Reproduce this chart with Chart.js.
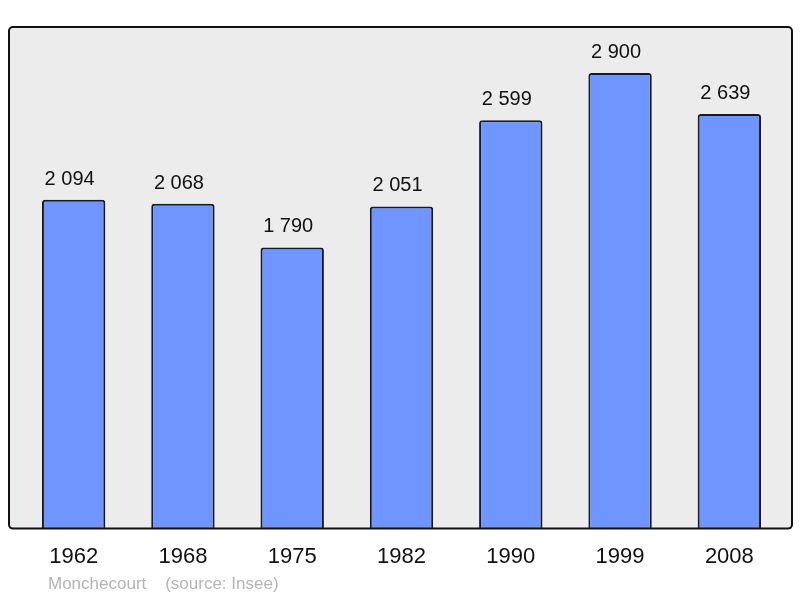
<!DOCTYPE html>
<html>
<head>
<meta charset="utf-8">
<script src="https://cdn.jsdelivr.net/npm/chart.js@4/dist/chart.umd.min.js"></script>
<style>
  html, body { margin: 0; padding: 0; background: #fff; }
  #wrap { width: 800px; height: 598px; position: relative; }
</style>
</head>
<body>
<div id="wrap"><canvas id="pop"></canvas></div>
<script>
// --- data ---
const years = ['1962', '1968', '1975', '1982', '1990', '1999', '2008'];
const population = [2094, 2068, 1790, 2051, 2599, 2900, 2639];
const sourceNote = 'Monchecourt    (source: Insee)';

const FONT = '"Liberation Sans", Arial, sans-serif';

// grey panel with black rounded frame, a bit wider than the category area
const framePlugin = {
    id: 'frame',
    beforeDraw(chart) {
        const { ctx, chartArea: a } = chart;
        const x0 = a.left - 10, x1 = a.right + 8, y0 = a.top, y1 = a.bottom;
        ctx.save();
        ctx.beginPath();
        ctx.roundRect(x0, y0, x1 - x0, y1 - y0, 4);
        ctx.fillStyle = '#ececec';
        ctx.fill();
        ctx.restore();
    },
    afterDatasetsDraw(chart) {
        const { ctx, chartArea: a } = chart;
        const x0 = a.left - 10, x1 = a.right + 8, y0 = a.top, y1 = a.bottom;
        ctx.save();
        ctx.beginPath();
        ctx.roundRect(x0, y0, x1 - x0, y1 - y0, 4);
        ctx.lineWidth = 2;
        ctx.strokeStyle = '#111';
        ctx.stroke();
        ctx.restore();
    }
};

// value labels above bars + source note
const labelPlugin = {
    id: 'valueLabels',
    afterDraw(chart) {
        const { ctx } = chart;
        const meta = chart.getDatasetMeta(0);
        ctx.save();
        ctx.fillStyle = '#111';
        ctx.font = '20px ' + FONT;
        ctx.textAlign = 'center';
        ctx.textBaseline = 'alphabetic';
        meta.data.forEach((bar, i) => {
            const txt = population[i].toLocaleString('fr-FR').replace(/\s/g, ' ');
            ctx.fillText(txt, bar.x - 4, bar.y - 15);  // labels sit a little left of centre in the original
        });
        ctx.fillStyle = '#b4b4b4';
        ctx.font = '17px ' + FONT;
        ctx.textAlign = 'left';
        ctx.fillText(sourceNote, 48, 589);
        ctx.restore();
    }
};

new Chart(document.getElementById('pop'), {
    type: 'bar',
    data: {
        labels: years,
        datasets: [{
            data: population,
            backgroundColor: '#6f96ff',
            borderColor: '#1a1a1a',
            borderWidth: 2,
            borderRadius: 3,
            borderSkipped: 'bottom',
            barPercentage: 0.58,
            categoryPercentage: 1
        }]
    },
    options: {
        responsive: true, maintainAspectRatio: false,
        animation: false,
        layout: { padding: { left: 19, right: 16, top: 27, bottom: 21 } },
        plugins: { legend: { display: false }, tooltip: { enabled: false } },
        scales: {
            x: {
                grid: { display: false },
                border: { display: false },
                ticks: { color: '#111', font: { family: FONT, size: 22 }, padding: 7 }
            },
            y: { display: false, min: 0, max: 3193 }
        }
    },
    plugins: [framePlugin, labelPlugin]
});
</script>
</body>
</html>
